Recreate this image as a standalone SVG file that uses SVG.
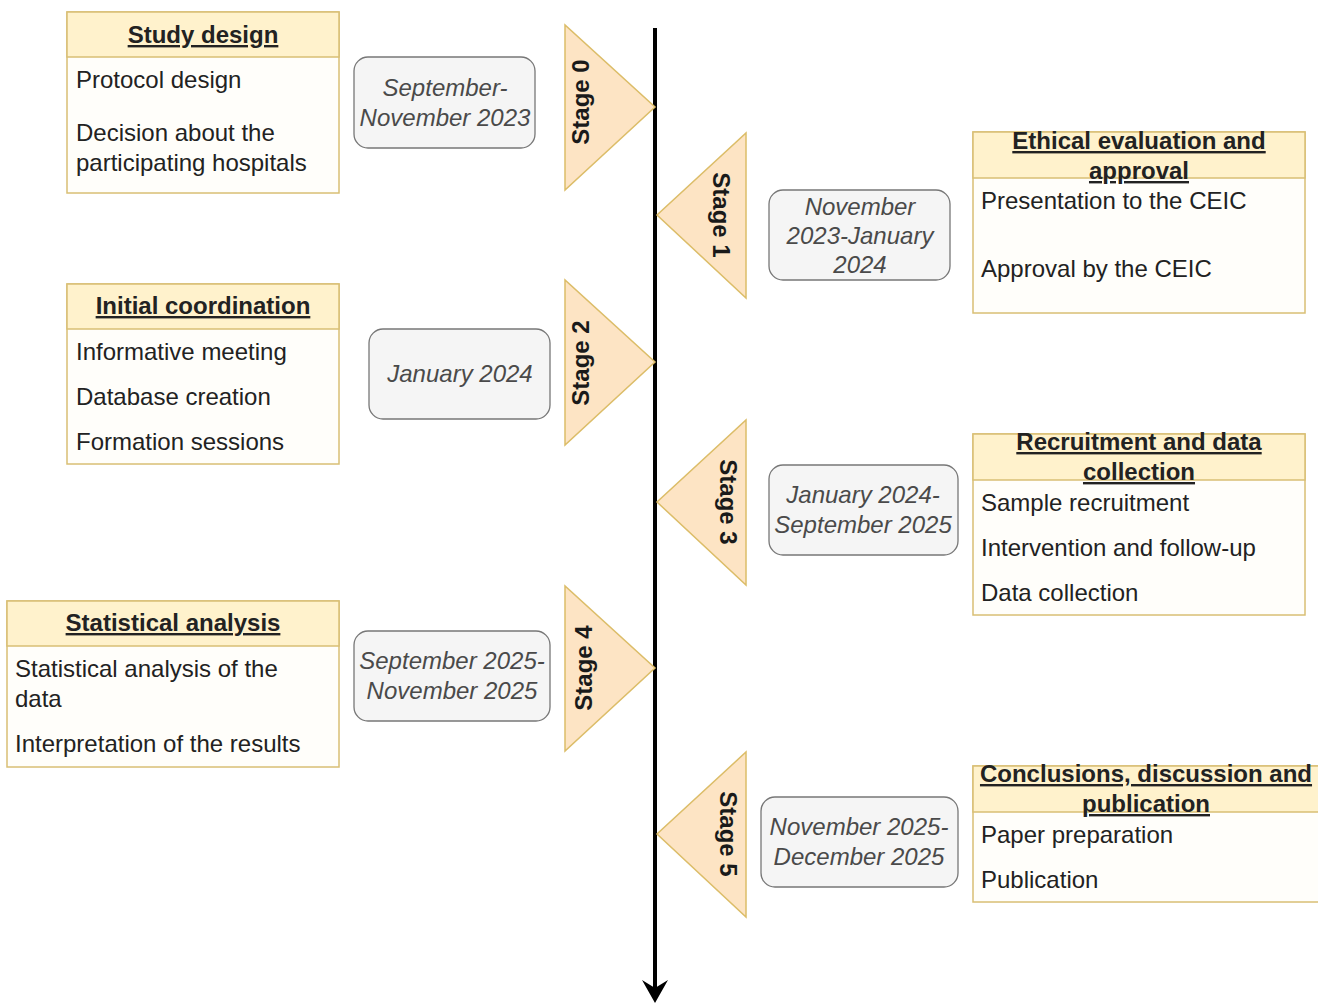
<svg xmlns="http://www.w3.org/2000/svg" width="1318" height="1004" viewBox="0 0 1318 1004">
  <defs>
    <style>
      text { font-family: "Liberation Sans", Arial, sans-serif; font-size: 24px; fill: #222; }
      .title { font-weight: bold; text-decoration: underline; text-anchor: middle; }
      .item { text-anchor: start; }
      .date { font-style: italic; fill: #4a4a4a; text-anchor: middle; }
      .stage { font-weight: bold; text-anchor: middle; dominant-baseline: central; fill: #1a1a1a; }
      .head { fill: #fff2cc; stroke: #d9bf74; stroke-width: 1.5; }
      .body { fill: #fffefa; stroke: #d9bf74; stroke-width: 1.5; }
      .tri { fill: #fde4c4; stroke: #dcbd68; stroke-width: 1.5; }
      .datebox { fill: #f5f5f5; stroke: #777; stroke-width: 1.3; }
      .axis { stroke: #000; stroke-width: 4; fill: none; }
    </style>
  </defs>

  <rect width="1318" height="1004" fill="#fff"/>

  <!-- timeline axis with its arrowhead -->
  <g id="connectors">
    <line class="axis" x1="655" y1="28" x2="655" y2="992"/>
    <path d="M655,1003 L642,980 L655,988 L668,980 Z" fill="#000"/>
  </g>

  <!-- stage markers -->
  <g id="stage0">
    <polygon class="tri" points="565,25 565,190 655,107"/>
    <text class="stage" transform="translate(580,102) rotate(-90)">Stage 0</text>
  </g>
  <g id="stage1">
    <polygon class="tri" points="746,133 746,298 657,215"/>
    <text class="stage" transform="translate(721,215) rotate(90)">Stage 1</text>
  </g>
  <g id="stage2">
    <polygon class="tri" points="565,280 565,445 655,362"/>
    <text class="stage" transform="translate(580,363) rotate(-90)">Stage 2</text>
  </g>
  <g id="stage3">
    <polygon class="tri" points="746,420 746,585 657,502"/>
    <text class="stage" transform="translate(728,502) rotate(90)">Stage 3</text>
  </g>
  <g id="stage4">
    <polygon class="tri" points="565,586 565,751 655,668"/>
    <text class="stage" transform="translate(583,668) rotate(-90)">Stage 4</text>
  </g>
  <g id="stage5">
    <polygon class="tri" points="746,752 746,917 657,834"/>
    <text class="stage" transform="translate(728,834) rotate(90)">Stage 5</text>
  </g>

  <!-- date ranges -->
  <g id="date0">
    <rect class="datebox" x="354" y="57" width="181" height="91" rx="14"/>
    <text class="date" x="445" y="96">September-</text>
    <text class="date" x="445" y="126">November 2023</text>
  </g>
  <g id="date1">
    <rect class="datebox" x="769" y="190" width="181" height="90" rx="14"/>
    <text class="date" x="860" y="215">November</text>
    <text class="date" x="860" y="244">2023-January</text>
    <text class="date" x="860" y="273">2024</text>
  </g>
  <g id="date2">
    <rect class="datebox" x="369" y="329" width="181" height="90" rx="14"/>
    <text class="date" x="460" y="382">January 2024</text>
  </g>
  <g id="date3">
    <rect class="datebox" x="769" y="465" width="189" height="90" rx="14"/>
    <text class="date" x="863" y="503">January 2024-</text>
    <text class="date" x="863" y="533">September 2025</text>
  </g>
  <g id="date4">
    <rect class="datebox" x="354" y="631" width="196" height="90" rx="14"/>
    <text class="date" x="452" y="669">September 2025-</text>
    <text class="date" x="452" y="699">November 2025</text>
  </g>
  <g id="date5">
    <rect class="datebox" x="761" y="797" width="197" height="90" rx="14"/>
    <text class="date" x="859" y="835">November 2025-</text>
    <text class="date" x="859" y="865">December 2025</text>
  </g>

  <!-- stage activity boxes -->
  <g id="study-design">
    <rect class="body" x="67" y="12" width="272" height="181"/>
    <rect class="head" x="67" y="12" width="272" height="45"/>
    <text class="title" x="203" y="43">Study design</text>
    <text class="item" x="76" y="88">Protocol design</text>
    <text class="item" x="76" y="141">Decision about the</text>
    <text class="item" x="76" y="171">participating hospitals</text>
  </g>

  <g id="ethical-evaluation">
    <rect class="body" x="973" y="132" width="332" height="181"/>
    <rect class="head" x="973" y="132" width="332" height="46"/>
    <text class="title" x="1139" y="149">Ethical evaluation and</text>
    <text class="title" x="1139" y="179">approval</text>
    <text class="item" x="981" y="209">Presentation to the CEIC</text>
    <text class="item" x="981" y="277">Approval by the CEIC</text>
  </g>

  <g id="initial-coordination">
    <rect class="body" x="67" y="284" width="272" height="180"/>
    <rect class="head" x="67" y="284" width="272" height="45"/>
    <text class="title" x="203" y="314">Initial coordination</text>
    <text class="item" x="76" y="360">Informative meeting</text>
    <text class="item" x="76" y="405">Database creation</text>
    <text class="item" x="76" y="450">Formation sessions</text>
  </g>

  <g id="recruitment">
    <rect class="body" x="973" y="434" width="332" height="181"/>
    <rect class="head" x="973" y="434" width="332" height="46"/>
    <text class="title" x="1139" y="450">Recruitment and data</text>
    <text class="title" x="1139" y="480">collection</text>
    <text class="item" x="981" y="511">Sample recruitment</text>
    <text class="item" x="981" y="556">Intervention and follow-up</text>
    <text class="item" x="981" y="601">Data collection</text>
  </g>

  <g id="statistical-analysis">
    <rect class="body" x="7" y="601" width="332" height="166"/>
    <rect class="head" x="7" y="601" width="332" height="45"/>
    <text class="title" x="173" y="631">Statistical analysis</text>
    <text class="item" x="15" y="677">Statistical analysis of the</text>
    <text class="item" x="15" y="707">data</text>
    <text class="item" x="15" y="752">Interpretation of the results</text>
  </g>

  <g id="conclusions">
    <rect class="body" x="973" y="766" width="346" height="136"/>
    <rect class="head" x="973" y="766" width="346" height="46"/>
    <text class="title" x="1146" y="782">Conclusions, discussion and</text>
    <text class="title" x="1146" y="812">publication</text>
    <text class="item" x="981" y="843">Paper preparation</text>
    <text class="item" x="981" y="888">Publication</text>
  </g>
</svg>
